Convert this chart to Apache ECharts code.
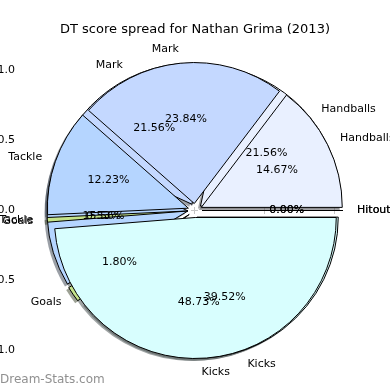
<!DOCTYPE html>
<html>
<head>
<meta charset="utf-8">
<script src="https://cdn.jsdelivr.net/npm/echarts@6/dist/echarts.min.js"></script>
<style>html,body{margin:0;padding:0;background:#fff}#c{width:390px;height:390px}</style>
</head>
<body>
<div id="c"></div>
<script>
// ---- data ----
const categories = ['Hitouts', 'Handballs', 'Mark', 'Tackle', 'Goals', 'Kicks'];
const backPct = [0.00, 21.56, 21.56, 15.56, 1.80, 39.52];   // pie drawn first (underneath)
const frontPct = [0.00, 14.67, 23.84, 12.23, 0.53, 48.73];  // pie drawn on top
const sliceColors = ['#d0e0ff', '#e9f0ff', '#c4d8ff', '#b5d5ff', '#c5e38a', '#d8fefe'];
const tickValues = [-1.0, -0.5, 0.0, 0.5, 1.0];
const titleText = 'DT score spread for Nathan Grima (2013)';
const watermark = 'Dream-Stats.com';

// ---- layout ----
const FONT = 'DejaVu Sans';
const CX = 195, CY = 210.5, R = 141, EXPLODE = 7;
const AX = 1.232;

function shade(hex) {
  const n = parseInt(hex.slice(1), 16);
  const r = Math.round(((n >> 16) & 255) * 0.3), g = Math.round(((n >> 8) & 255) * 0.3), b = Math.round((n & 255) * 0.3);
  return 'rgba(' + r + ',' + g + ',' + b + ',0.5)';
}

function items(vals, colorFn) {
  return vals.map((v, i) => ({
    name: categories[i], value: v, selected: true,
    itemStyle: colorFn ? { color: colorFn(i) } : undefined
  }));
}

const baseSeries = {
  type: 'pie', startAngle: 0, clockwise: false, selectedMode: 'multiple',
  selectedOffset: EXPLODE, avoidLabelOverlap: false, animation: false, silent: true,
  stillShowZeroSum: true, minAngle: 0,
  labelLayout: { hideOverlap: false },
  emphasis: { disabled: true }
};

function shadowSeries(vals) {
  return Object.assign({}, baseSeries, {
    z: 1, center: [CX - 2.5, CY + 2.5], radius: [0, R],
    data: items(vals, i => shade(sliceColors[i])),
    itemStyle: { borderWidth: 0 },
    label: { show: false }, labelLine: { show: false }
  });
}
function wedgeSeries(vals, z) {
  return Object.assign({}, baseSeries, {
    z: z, center: [CX, CY], radius: [0, R],
    data: items(vals, i => sliceColors[i]),
    itemStyle: { borderColor: '#000', borderWidth: 1 },
    select: { itemStyle: { borderColor: '#000', borderWidth: 1 } },
    label: { show: false }, labelLine: { show: false }
  });
}
function nameSeries(vals) {
  return Object.assign({}, baseSeries, {
    z: 10, center: [CX, CY], radius: [0, R],
    data: items(vals),
    itemStyle: { color: 'rgba(0,0,0,0)', borderWidth: 0 },
    select: { itemStyle: { color: 'rgba(0,0,0,0)', borderWidth: 0 } },
    label: { show: true, position: 'outside', formatter: '{b}', fontFamily: FONT, fontSize: 11, color: '#000', distanceToLabelLine: 0 },
    labelLine: { show: false, length: 14, length2: 0 }
  });
}
function pctSeries(vals) {
  return Object.assign({}, baseSeries, {
    z: 10, center: [CX, CY], radius: [0, 163.3],
    data: items(vals),
    itemStyle: { color: 'rgba(0,0,0,0)', borderWidth: 0 },
    select: { itemStyle: { color: 'rgba(0,0,0,0)', borderWidth: 0 } },
    label: { show: true, position: 'inside', formatter: p => p.value.toFixed(2) + '%', fontFamily: FONT, fontSize: 11, color: '#000' },
    labelLine: { show: false }
  });
}

const tickFmt = v => (v < 0 ? '\u2212' : '') + Math.abs(v).toFixed(1);
function axis(pos, showLabel) {
  return {
    type: 'value', position: pos, min: -AX, max: AX,
    axisLine: { show: false }, splitLine: { show: false },
    axisTick: { show: true, customValues: tickValues, length: 3.5, lineStyle: { color: '#c4c4c4', width: 1 } },
    axisLabel: { show: showLabel, customValues: tickValues, formatter: tickFmt, fontFamily: FONT, fontSize: 11, color: '#000', margin: 7 }
  };
}

const chart = echarts.init(document.getElementById('c'), null, { renderer: 'canvas' });
chart.setOption({
  animation: false,
  backgroundColor: '#fff',
  title: { text: titleText, left: 'center', top: 18, textStyle: { fontFamily: FONT, fontSize: 13, fontWeight: 'normal', color: '#000' } },
  grid: { left: 22, top: 38, width: 345, height: 345, containLabel: false, outerBoundsMode: 'none' },
  xAxis: [axis('bottom', true), axis('top', false)],
  yAxis: [axis('left', true), axis('right', false)],
  graphic: [{ type: 'text', left: 0, top: 374, z: 100, style: { text: watermark, fontFamily: FONT, fontSize: 12, fill: '#909090' } }],
  series: [
    shadowSeries(backPct),
    shadowSeries(frontPct),
    wedgeSeries(backPct, 2),
    wedgeSeries(frontPct, 3),
    nameSeries(backPct),
    nameSeries(frontPct),
    pctSeries(backPct),
    pctSeries(frontPct)
  ]
});
</script>
</body>
</html>
